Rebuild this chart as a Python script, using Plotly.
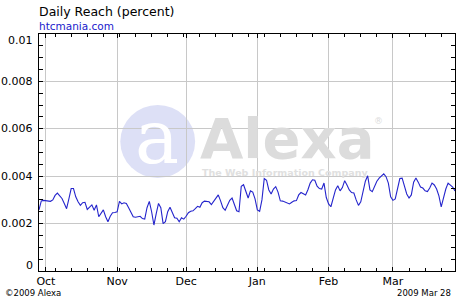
import datetime as dt
import plotly.graph_objects as go

# ---- data (daily reach, percent) ----
start_date = "2008-09-28"
reach = [
    0.00258, 0.00296, 0.00298, 0.00297, 0.00296, 0.00294, 0.00300, 0.00319, 0.00329, 0.00317,
    0.00306, 0.00285, 0.00263, 0.00304, 0.00348, 0.00348, 0.00313, 0.00292, 0.00277, 0.00288,
    0.00290, 0.00260, 0.00271, 0.00279, 0.00256, 0.00279, 0.00229, 0.00246, 0.00258, 0.00229,
    0.00208, 0.00231, 0.00246, 0.00247, 0.00250, 0.00294, 0.00283, 0.00288, 0.00285, 0.00267,
    0.00246, 0.00229, 0.00227, 0.00229, 0.00231, 0.00221, 0.00219, 0.00267, 0.00294, 0.00250,
    0.00194, 0.00242, 0.00285, 0.00267, 0.00200, 0.00208, 0.00250, 0.00269, 0.00250, 0.00225,
    0.00223, 0.00208, 0.00225, 0.00219, 0.00231, 0.00246, 0.00252, 0.00254, 0.00263, 0.00273,
    0.00269, 0.00288, 0.00295, 0.00295, 0.00292, 0.00280, 0.00292, 0.00304, 0.00321, 0.00296,
    0.00267, 0.00256, 0.00277, 0.00298, 0.00308, 0.00279, 0.00254, 0.00250, 0.00357, 0.00364,
    0.00338, 0.00308, 0.00338, 0.00333, 0.00304, 0.00258, 0.00252, 0.00300, 0.00390, 0.00383,
    0.00342, 0.00325, 0.00346, 0.00356, 0.00333, 0.00296, 0.00295, 0.00292, 0.00288, 0.00283,
    0.00290, 0.00296, 0.00297, 0.00321, 0.00331, 0.00325, 0.00321, 0.00343, 0.00371, 0.00385,
    0.00383, 0.00358, 0.00348, 0.00346, 0.00371, 0.00310, 0.00283, 0.00271, 0.00304, 0.00342,
    0.00360, 0.00338, 0.00352, 0.00381, 0.00363, 0.00342, 0.00331, 0.00329, 0.00300, 0.00277,
    0.00292, 0.00338, 0.00379, 0.00402, 0.00342, 0.00335, 0.00356, 0.00379, 0.00392, 0.00400,
    0.00410, 0.00398, 0.00371, 0.00313, 0.00298, 0.00304, 0.00346, 0.00390, 0.00392, 0.00358,
    0.00325, 0.00308, 0.00321, 0.00375, 0.00392, 0.00375, 0.00354, 0.00350, 0.00338, 0.00335,
    0.00350, 0.00371, 0.00363, 0.00346, 0.00317, 0.00271, 0.00313, 0.00346, 0.00371, 0.00363,
    0.00354, 0.00338,
]
d0 = dt.date.fromisoformat(start_date)
dates = [d0 + dt.timedelta(days=i) for i in range(len(reach))]

y_ticks = [0, 0.002, 0.004, 0.006, 0.008, 0.01]
y_tick_labels = ["0", "0.002", "0.004", "0.006", "0.008", "0.01"]

title = "Daily Reach (percent)"
site = "htcmania.com"
copyright_text = "©2009 Alexa"
date_stamp = "2009 Mar 28"

FONT = "DejaVu Sans, Verdana, sans-serif"
W, H = 470, 300
L, R, T, B = 38.5, 14.5, 34, 29
PW, PH = W - L - R, H - T - B


def px(p):
    return (p - L) / PW


def py(p):
    return (H - B - p) / PH


fig = go.Figure()
fig.add_trace(go.Scatter(
    x=dates, y=reach, mode="lines",
    line=dict(color="#2424cc", width=1.1),
    hoverinfo="skip", showlegend=False,
))

annotations = []
# y tick labels
for v, lab in zip(y_ticks, y_tick_labels):
    shift = 0
    if v == y_ticks[-1]:
        shift = -6
    elif v == y_ticks[0]:
        shift = 6
    annotations.append(dict(
        x=0, xref="paper", y=v, yref="y", text=lab, showarrow=False,
        xanchor="right", yanchor="middle", xshift=-4, yshift=shift,
        font=dict(family=FONT, size=11, color="#000000"),
    ))

annotations += [
    dict(x=px(36), y=py(11.5), xref="paper", yref="paper", text=title, showarrow=False,
         xanchor="left", yanchor="middle", font=dict(family=FONT, size=12.5, color="#000")),
    dict(x=px(36), y=py(25.5), xref="paper", yref="paper", text=site, showarrow=False,
         xanchor="left", yanchor="middle", font=dict(family=FONT, size=10.5, color="#1a1acc")),
    dict(x=px(2), y=py(293), xref="paper", yref="paper", text=copyright_text, showarrow=False,
         xanchor="left", yanchor="middle", font=dict(family=FONT, size=8.5, color="#000")),
    dict(x=px(453), y=py(293), xref="paper", yref="paper", text=date_stamp, showarrow=False,
         xanchor="right", yanchor="middle", font=dict(family=FONT, size=8.5, color="#000")),
    # watermark
    dict(x=px(157), y=py(137), xref="paper", yref="paper", text="a", showarrow=False,
         xanchor="center", yanchor="middle",
         font=dict(family="DejaVu Serif, serif", size=74, color="#ffffff")),
    dict(x=px(198), y=py(138), xref="paper", yref="paper", text="<b>Alexa</b>", showarrow=False,
         xanchor="left", yanchor="middle", font=dict(family=FONT, size=56, color="#dcdcdc")),
    dict(x=px(379), y=py(121), xref="paper", yref="paper", text="®", showarrow=False,
         xanchor="center", yanchor="middle", font=dict(family=FONT, size=9, color="#dcdcdc")),
    dict(x=px(200), y=py(172), xref="paper", yref="paper",
         text="<b>The Web Information Company</b>", showarrow=False,
         xanchor="left", yanchor="middle", font=dict(family=FONT, size=9.5, color="#e0e0e0")),
]

shapes = [
    dict(type="circle", xref="paper", yref="paper",
         x0=px(120), x1=px(195), y0=py(178), y1=py(105),
         fillcolor="#dde0f6", line=dict(width=0), layer="below"),
]

fig.update_layout(
    width=W, height=H,
    margin=dict(l=L, r=R, t=T, b=B, pad=0),
    paper_bgcolor="#ffffff", plot_bgcolor="rgba(0,0,0,0)",
    font=dict(family=FONT, size=11, color="#000"),
    annotations=annotations, shapes=shapes,
    showlegend=False,
)
fig.update_xaxes(
    range=["2008-09-28", "2009-03-28"],
    dtick="M1", tick0="2008-10-01", tickformat="%b",
    ticks="inside", ticklen=4, tickcolor="#000",
    showgrid=True, gridcolor="#c8c8c8", gridwidth=1,
    showline=True, linecolor="#000", linewidth=1, mirror="ticks",
    zeroline=False,
    tickfont=dict(family=FONT, size=11, color="#000"),
    minor=dict(ticks="inside", ticklen=3, tickcolor="#000",
               dtick=7 * 86400000, tick0="2008-09-28", showgrid=False),
)
fig.update_yaxes(
    range=[0, 0.01],
    tickvals=y_ticks, showticklabels=False,
    ticks="inside", ticklen=4, tickcolor="#000",
    showgrid=True, gridcolor="#c8c8c8", gridwidth=1,
    showline=True, linecolor="#000", linewidth=1, mirror="ticks",
    zeroline=False,
    minor=dict(ticks="inside", ticklen=4, tickcolor="#000", dtick=0.0005, showgrid=False),
)

fig.write_html("out.html")
